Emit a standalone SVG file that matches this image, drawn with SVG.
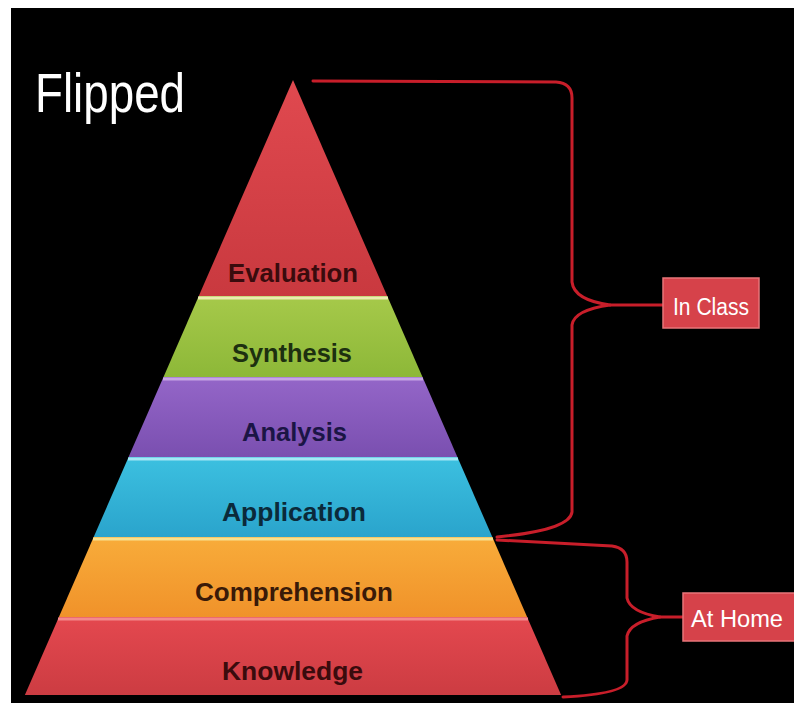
<svg xmlns="http://www.w3.org/2000/svg" width="794" height="703" viewBox="0 0 794 703">
<defs>
<linearGradient id="gRed" x1="0" y1="0" x2="0" y2="1"><stop offset="0" stop-color="#e0494f"/><stop offset="1" stop-color="#c9393f"/></linearGradient>
<linearGradient id="gGreen" x1="0" y1="0" x2="0" y2="1"><stop offset="0" stop-color="#a6c94a"/><stop offset="1" stop-color="#8db838"/></linearGradient>
<linearGradient id="gPurple" x1="0" y1="0" x2="0" y2="1"><stop offset="0" stop-color="#9466c8"/><stop offset="1" stop-color="#7a4fb0"/></linearGradient>
<linearGradient id="gCyan" x1="0" y1="0" x2="0" y2="1"><stop offset="0" stop-color="#3cc0e0"/><stop offset="1" stop-color="#2aa4cc"/></linearGradient>
<linearGradient id="gOrange" x1="0" y1="0" x2="0" y2="1"><stop offset="0" stop-color="#f8ac3a"/><stop offset="1" stop-color="#f0922a"/></linearGradient>
<linearGradient id="gRed2" x1="0" y1="0" x2="0" y2="1"><stop offset="0" stop-color="#e4484f"/><stop offset="1" stop-color="#cc3c42"/></linearGradient>
</defs>
<style>
.lbl{font-family:"Liberation Sans",Arial,sans-serif;font-weight:bold;font-size:26px;text-anchor:start}
.brace{fill:none;stroke:#c81e2a;stroke-width:3;stroke-linecap:round;stroke-linejoin:round}
.tag{fill:#d6424a;stroke:#e8757a;stroke-width:1.5}
.tagtxt{font-family:"Liberation Sans",Arial,sans-serif;font-size:23px;fill:#ffffff}
.hl{stroke-width:3}
</style>
<rect x="0" y="0" width="794" height="703" fill="#ffffff"/>
<rect x="11" y="8" width="783" height="695" fill="#000000"/>
<text x="35" y="112" font-family="'Liberation Sans',Arial,sans-serif" font-size="56" fill="#ffffff" textLength="150" lengthAdjust="spacingAndGlyphs">Flipped</text>

<g id="evaluation">
<polygon points="293,80 387.2,296 198.8,296" fill="url(#gRed)"/>
<text class="lbl" x="228" y="282" fill="#3a0b0d" textLength="130" lengthAdjust="spacingAndGlyphs">Evaluation</text>
</g>
<g id="synthesis">
<polygon points="198.8,296 387.2,296 422.5,377 163.5,377" fill="url(#gGreen)"/>
<line class="hl" x1="198" y1="298" x2="388" y2="298" stroke="#ecebb0"/>
<text class="lbl" x="232" y="362" fill="#1d3010" textLength="120" lengthAdjust="spacingAndGlyphs">Synthesis</text>
</g>
<g id="analysis">
<polygon points="163.5,377 422.5,377 457.4,457 128.6,457" fill="url(#gPurple)"/>
<line class="hl" x1="163" y1="379" x2="423" y2="379" stroke="#c7a6e6"/>
<text class="lbl" x="242" y="441" fill="#1b1545" textLength="105" lengthAdjust="spacingAndGlyphs">Analysis</text>
</g>
<g id="application">
<polygon points="128.6,457 457.4,457 492.3,537 93.7,537" fill="url(#gCyan)"/>
<line class="hl" x1="128" y1="459" x2="458" y2="459" stroke="#a6e6f4"/>
<text class="lbl" x="222" y="521" fill="#0b2a3a" textLength="144" lengthAdjust="spacingAndGlyphs">Application</text>
</g>
<g id="comprehension">
<polygon points="93.7,537 492.3,537 527.1,617 58.9,617" fill="url(#gOrange)"/>
<line class="hl" x1="93" y1="539" x2="493" y2="539" stroke="#f7e290"/>
<text class="lbl" x="195" y="601" fill="#3a1a08" textLength="198" lengthAdjust="spacingAndGlyphs">Comprehension</text>
</g>
<g id="knowledge">
<polygon points="58.9,617 527.1,617 561.1,695 24.9,695" fill="url(#gRed2)"/>
<line class="hl" x1="58" y1="619" x2="528" y2="619" stroke="#f4898c"/>
<text class="lbl" x="222" y="680" fill="#3a0b0d" textLength="141" lengthAdjust="spacingAndGlyphs">Knowledge</text>
</g>

<g id="connectors">
<path class="brace" d="M313,81 L556,82 Q572,83 572,98 L572,282 Q574,300 610,305 Q574,310 572,325 L572,512 Q570,530 497,537"/>
<path class="brace" d="M610,305 L663,305"/>
<path class="brace" d="M497,540 L612,546 Q627,548 627,562 L627,598 Q630,612 660,617 Q630,622 627,636 L627,680 Q626,694 563,697"/>
<path class="brace" d="M660,617 L683,617"/>
</g>

<g id="in-class">
<rect class="tag" x="663" y="278" width="96" height="50"/>
<text class="tagtxt" x="673" y="315" textLength="76" lengthAdjust="spacingAndGlyphs">In Class</text>
</g>
<g id="at-home">
<rect class="tag" x="683" y="593" width="115" height="48"/>
<text class="tagtxt" x="691" y="627" textLength="92" lengthAdjust="spacingAndGlyphs">At Home</text>
</g>
</svg>
